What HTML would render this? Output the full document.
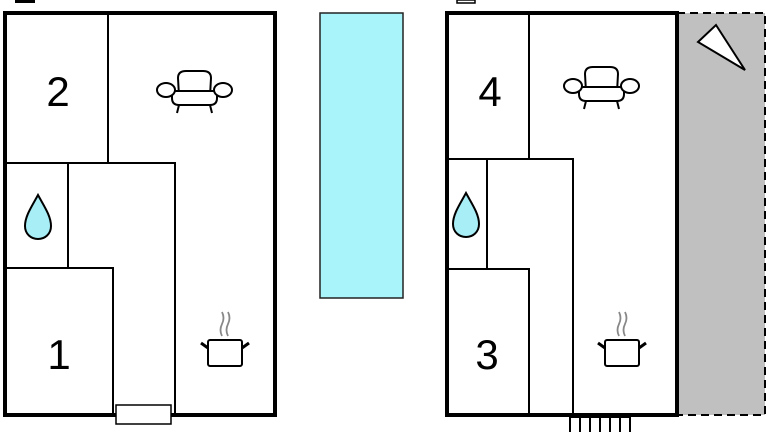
<!DOCTYPE html>
<html><head><style>
html,body{margin:0;padding:0;background:#fff;width:768px;height:432px;overflow:hidden}
svg text{font-family:"Liberation Sans",sans-serif;}
</style></head><body>
<svg width="768" height="432" viewBox="0 0 768 432" xmlns="http://www.w3.org/2000/svg">
<defs>
<g id="sofa" fill="#fff" stroke="#000" stroke-width="2">
<path d="M22 25 L21 7 Q21 0 29 0 L46 0 Q54 0 54 7 L53 25 Z"/>
<path d="M15 20 L60 20 L60 27 Q60 34 53 34 L22 34 Q15 34 15 27 Z"/>
<ellipse cx="9" cy="19" rx="9" ry="7"/>
<ellipse cx="66" cy="19" rx="9" ry="7"/>
<line x1="22" y1="34" x2="20" y2="42"/><line x1="53" y1="34" x2="55" y2="42"/>
</g>
<g id="pot">
<path d="M-17 -2 L-24 -7 M17 -2 L24 -7" stroke="#000" stroke-width="3"/>
<rect x="-17" y="-10" width="34" height="26" rx="2" fill="#fff" stroke="#000" stroke-width="2"/>
<path d="M-3 -14 q-3 -6 0 -12 q3 -6 0 -12 M3 -14 q-3 -6 0 -12 q3 -6 0 -12" fill="none" stroke="#888" stroke-width="1.8"/>
</g>
<path id="drop" d="M0 -23 C6 -12 13 -2 13 8 C13 16 7 21 0 21 C-7 21 -13 16 -13 8 C-13 -2 -6 -12 0 -23 Z" fill="#a8eef6" stroke="#000" stroke-width="2"/>
</defs>
<rect x="15" y="0" width="20" height="3" fill="#000"/>
<rect x="457" y="0" width="18" height="3" fill="#fff" stroke="#000" stroke-width="1.5"/>
<rect x="5" y="13" width="270" height="402" fill="#fff" stroke="#000" stroke-width="4"/>
<g stroke="#000" stroke-width="2" fill="none">
<path d="M108 13 V163 M5 163 H175 V415 M68 163 V268 M5 268 H113 V415"/>
</g>
<rect x="116" y="405" width="55" height="19" fill="#fff" stroke="#000" stroke-width="1.5"/>
<text x="58" y="106" font-size="42" text-anchor="middle">2</text>
<text x="59" y="369" font-size="42" text-anchor="middle">1</text>
<use href="#sofa" x="157" y="71"/>
<use href="#pot" x="225" y="350"/>
<use href="#drop" x="38" y="218"/>
<rect x="320" y="13" width="83" height="285" fill="#a8f4fa" stroke="#222" stroke-width="1.5"/>
<rect x="677" y="13" width="88" height="402" fill="#c0c0c0" stroke="#000" stroke-width="2" stroke-dasharray="8,5"/>
<polygon points="698,42 716,25 745,70" fill="#fff" stroke="#000" stroke-width="2"/>
<rect x="447" y="13" width="230" height="402" fill="#fff" stroke="#000" stroke-width="4"/>
<g stroke="#000" stroke-width="2" fill="none">
<path d="M529 13 V159 M447 159 H573 V415 M487 159 V269 M447 269 H529 V415"/>
<path d="M570 417 V432 M580 417 V432 M590 417 V432 M600 417 V432 M610 417 V432 M620 417 V432 M630 417 V432 M570 417 H630"/>
</g>
<text x="490" y="106" font-size="42" text-anchor="middle">4</text>
<text x="487" y="369" font-size="42" text-anchor="middle">3</text>
<use href="#sofa" x="564" y="67"/>
<use href="#pot" x="622" y="350"/>
<use href="#drop" x="466" y="216"/>
</svg>
</body></html>
